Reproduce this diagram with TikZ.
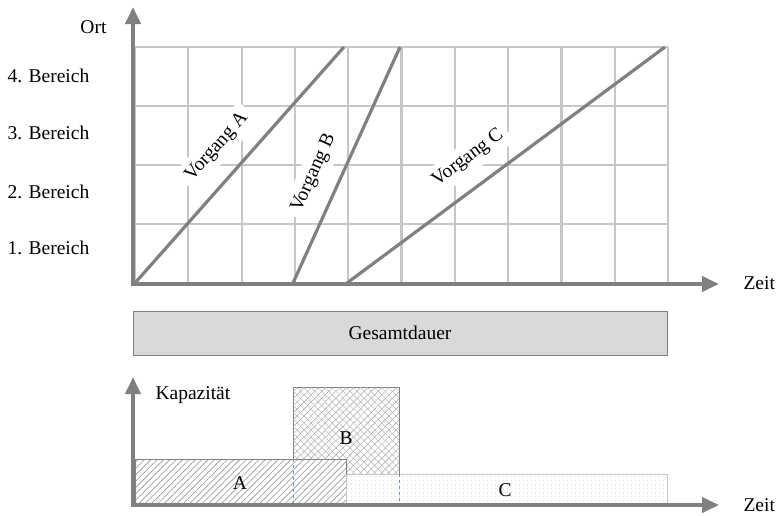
\documentclass[tikz,border=0pt]{standalone}
\usepackage{fontspec}
\setmainfont{Liberation Serif}
\usepackage{xcolor}
\usetikzlibrary{arrows.meta}
\usetikzlibrary{patterns.meta}

\definecolor{axisgray}{HTML}{808080}
\definecolor{gridgray}{HTML}{C6C6C6}
\definecolor{boxgray}{HTML}{D9D9D9}
\definecolor{dashblue}{HTML}{5B9BD5}

\begin{document}
\begin{tikzpicture}[x=1pt,y=-1pt,
  every node/.style={font=\fontsize{19.5}{23}\selectfont},
  axis/.style={line width=4pt,draw=axisgray,{Triangle[length=17pt,width=15pt]}-{Triangle[length=17pt,width=15pt]}},
  gridline/.style={line width=2.2pt,gridgray},
  vorgang/.style={line width=3.2pt,axisgray},
  vlabel/.style={fill=white,inner sep=6pt},
  bar/.style={preaction={fill=white},draw=axisgray,line width=1pt,pattern color=gray!70}]
\useasboundingbox (0,0) rectangle (781,515);
% raster
\foreach \i in {0,...,10}{
\draw[gridline] (135+53.3*\i,47) -- (135+53.3*\i,283);
}
\foreach \j in {0,...,3}{
\draw[gridline] (135,47+59*\j) -- (668,47+59*\j);
}
\node[vlabel,rotate=48.3] (labA) at (217,147) {Vorgang A};
\node[vlabel,rotate=65.6] (labB) at (314,173) {Vorgang B};
\node[vlabel,rotate=36.6] (labC) at (468,158) {Vorgang C};
\coordinate (A0) at (135,283);
\coordinate (A1) at (344,47);
\coordinate (B0) at (293,283);
\coordinate (B1) at (400,47);
\coordinate (C0) at (347,283);
\coordinate (C1) at (665,47);
\draw[vorgang] (A0) -- (A1);
\draw[vorgang] (B0) -- (B1);
\draw[vorgang] (C0) -- (C1);
% Ort-Zeit axes
\coordinate (ytop) at (133,7);
\coordinate (O) at (133,284);
\coordinate (xend) at (719,284);
\draw[axis] (ytop) -- (O) -- (xend);
\node[anchor=east] (ort) at (110,27) {Ort};
\foreach \k/\y in {4/76,3/133,2/192,1/248}{
\node[anchor=west] (b\k) at (4,\y) {\k. Bereich};
}
\node[anchor=west] (zeitA) at (740,283) {Zeit};
% Gesamtdauer
\node[draw=axisgray,fill=boxgray,line width=1pt,minimum width=534pt,minimum height=44pt,inner sep=0pt] (total) at (400,333) {Gesamtdauer};
% capacity
\draw[bar,pattern={Lines[angle=45,distance=5pt,line width=0.5pt]},
  postaction={pattern={Lines[angle=-45,distance=5pt,line width=0.5pt]},pattern color=gray!55}] (293,387) rectangle (399,474);
\draw[bar,pattern={Lines[angle=45,distance=4.5pt,line width=0.8pt]}] (135,459) rectangle (346,503);
\draw[bar,draw=gridgray,pattern={Dots[distance=4pt,radius=0.4pt]},pattern color=gray!60] (346,474) rectangle (667,503);
\draw[dashblue,dashed,line width=0.8pt] (293,459) -- (293,503);
\draw[dashblue,dashed,line width=0.8pt] (399,474) -- (399,503);
\coordinate (ktop) at (133,377);
\coordinate (K) at (133,505);
\coordinate (kend) at (719,505);
\draw[axis] (ktop) -- (K) -- (kend);
\node[anchor=west] (kap) at (152,395) {Kapazität};
\node (capA) at (240,483) {A};
\node (capB) at (346,438) {B};
\node (capC) at (505,490) {C};
\node[anchor=west] (zeitB) at (740,505) {Zeit};
\end{tikzpicture}
\end{document}
